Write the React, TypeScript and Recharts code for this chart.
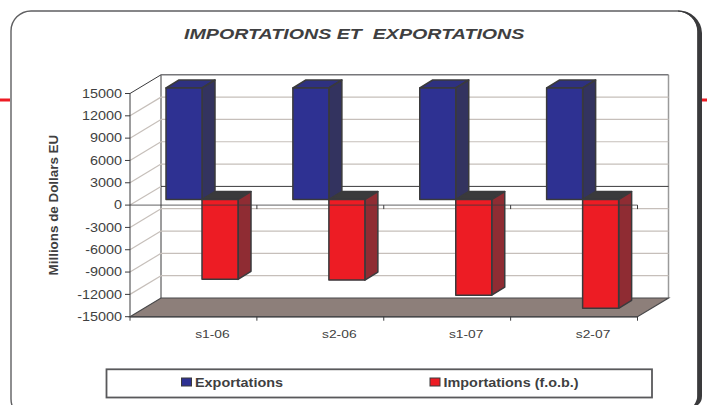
import { BarChart, Bar, XAxis, YAxis, CartesianGrid, Legend, ReferenceLine } from "recharts";

const categories = ["s1-06", "s2-06", "s1-07", "s2-07"];
const exportations = [15000, 15000, 15000, 15000];
const importations = [-10720, -10820, -12840, -14610];
const yTicks = [15000, 12000, 9000, 6000, 3000, 0, -3000, -6000, -9000, -12000, -15000];

const data = categories.map((period, i) => ({
  period,
  exportations: exportations[i],
  importations: importations[i],
}));

// layout of the plot (front plane) and the fake 3d depth
const W = 707;
const H = 405;
const PLOT_LEFT = 130;
const PLOT_RIGHT = 637.5;
const PLOT_TOP = 93.5;
const PLOT_BOTTOM = 316.7;
const DEPTH_X = 31;
const DEPTH_Y = 18.7;
const BAR_SHIFT_X = 9;
const BAR_SHIFT_Y = 5.5;
const BAR_DX = 13;
const BAR_DY = 8;
const SLOT = (PLOT_RIGHT - PLOT_LEFT) / categories.length;

const INK = "#3a3a3c";
const GRID = "#c6bfba";
const TEXT = "#3f3f41";
const FONT = "'Liberation Sans', Arial, sans-serif";

function Wide({ x, y, anchor = "start", size = 12, stretch = 1.2, bold = false, italic = false, children }: any) {
  return (
    <text
      transform={`translate(${x} ${y}) scale(${stretch} 1)`}
      textAnchor={anchor}
      fontFamily={FONT}
      fontSize={size}
      fontWeight={bold ? 700 : 400}
      fontStyle={italic ? "italic" : "normal"}
      fill={TEXT}
      style={{ whiteSpace: "pre" }}
    >
      {children}
    </text>
  );
}

function Bar3D({ x, y, width, height, fill, side, top }: any) {
  const y0 = Math.min(y, y + height) - BAR_SHIFT_Y;
  const y1 = Math.max(y, y + height) - BAR_SHIFT_Y;
  const x0 = x + BAR_SHIFT_X;
  const x1 = x0 + width;
  return (
    <g stroke={INK} strokeWidth={1.5} strokeLinejoin="round">
      <polygon
        points={`${x0},${y0} ${x0 + BAR_DX},${y0 - BAR_DY} ${x1 + BAR_DX},${y0 - BAR_DY} ${x1},${y0}`}
        fill={top}
      />
      <polygon
        points={`${x1},${y0} ${x1 + BAR_DX},${y0 - BAR_DY} ${x1 + BAR_DX},${y1 - BAR_DY} ${x1},${y1}`}
        fill={side}
      />
      <rect x={x0} y={y0} width={width} height={y1 - y0} fill={fill} />
    </g>
  );
}

// one call per y tick: gridline along the side wall and the back wall
function GridRow({ x1, x2, y1, index }: any) {
  const backY = y1 - DEPTH_Y;
  const backL = x1 + DEPTH_X;
  const backR = x2 + DEPTH_X;
  const isTop = Math.abs(y1 - PLOT_TOP) < 1;
  const isBottom = Math.abs(y1 - PLOT_BOTTOM) < 1;
  const isZero = Math.abs(y1 - (PLOT_TOP + PLOT_BOTTOM) / 2) < 1;
  if (isBottom) {
    return (
      <polygon
        key={index}
        points={`${x1},${y1} ${backL},${backY} ${backR},${backY} ${x2},${y1}`}
        fill="#8d7f7a"
        stroke="#48484a"
        strokeWidth={1.2}
      />
    );
  }
  if (isTop) {
    return (
      <g key={index} fill="none">
        <line x1={x1} y1={y1} x2={backL} y2={backY} stroke={INK} strokeWidth={1} />
        <line x1={backR} y1={backY} x2={backR} y2={PLOT_BOTTOM - DEPTH_Y} stroke="#9a9a9a" strokeWidth={1.5} />
        <line x1={backL} y1={backY} x2={backL} y2={PLOT_BOTTOM - DEPTH_Y} stroke={INK} strokeWidth={1} />
        <line x1={backL} y1={backY} x2={backR} y2={backY} stroke="#77777a" strokeWidth={1.5} />
      </g>
    );
  }
  return (
    <g key={index} fill="none">
      <line x1={x1} y1={y1} x2={backL} y2={backY} stroke={GRID} strokeWidth={1.2} />
      <line x1={backL} y1={backY} x2={backR} y2={backY} stroke={isZero ? INK : GRID} strokeWidth={isZero ? 1 : 1.2} />
    </g>
  );
}

function YTick({ x, y, payload }: any) {
  return (
    <g>
      <line x1={x} y1={y} x2={PLOT_LEFT} y2={y} stroke={INK} strokeWidth={1} />
      <Wide x={x - 3} y={y + 4.3} anchor="end">{payload.value}</Wide>
    </g>
  );
}

function XTick({ x, y, payload, index }: any) {
  const right = x + SLOT / 2;
  return (
    <g>
      {index === 0 && <line x1={x - SLOT / 2} y1={y} x2={x - SLOT / 2} y2={y + 4} stroke={INK} />}
      <line x1={right} y1={y} x2={right} y2={y + 4} stroke={INK} />
      <Wide x={x + 19} y={y + 21} anchor="middle" size={11.5}>{payload.value}</Wide>
    </g>
  );
}

// the zero line with its own ticks at the category boundaries
function ZeroAxis({ x1, x2, y1 }: any) {
  const y = y1;
  return (
    <g stroke={INK} strokeWidth={1}>
      <line x1={x1} y1={y} x2={x2} y2={y} strokeOpacity={0.8} />
      {categories.map((c, i) => (
        <line key={c} x1={x1 + SLOT * (i + 1)} y1={y} x2={x1 + SLOT * (i + 1)} y2={y + 4} />
      ))}
    </g>
  );
}

function LegendBox({ payload }: any) {
  const spots = [181.5, 430];
  const items = payload || [];
  return (
    <svg width={W} height={32} style={{ display: "block" }}>
      <rect x={106.5} y={2.3} width={545.5} height={28.2} fill="#fff" stroke="#59595b" strokeWidth={1.8} />
      {items.map((it: any, i: number) => (
        <g key={it.value}>
          <rect x={spots[i]} y={11} width={10} height={8} fill={it.color} stroke={INK} strokeWidth={1} />
          <Wide x={spots[i] + 13.5} y={19.5} bold>{it.value}</Wide>
        </g>
      ))}
    </svg>
  );
}

export default function App() {
  return (
    <div style={{ position: "absolute", left: 0, top: 0, width: W, height: H, background: "#fff", overflow: "hidden" }}>
      <svg width={W} height={H} style={{ position: "absolute", left: 0, top: 0 }}>
        <rect x={0} y={98.5} width={10} height={3} fill="#ed1c24" />
        <rect x={702} y={98.5} width={5} height={3} fill="#ed1c24" />
        <rect x={11} y={11} width={687} height={408} rx={20} fill="#fff" stroke="#5f5f61" strokeWidth={1.4} />
        <path
          d="M 678 10.4 A 24 23 0 0 1 702 33 L 702 396 Q 702 402 698 405 L 694 405 Q 697.3 400 697.3 396 L 697.3 31 A 20 20 0 0 0 678 11.6 Z"
          fill={INK}
        />
        <Wide x={184} y={38.5} size={15} stretch={1.31} bold italic>{"IMPORTATIONS ET  EXPORTATIONS"}</Wide>
      </svg>
      <div style={{ position: "absolute", left: 0, top: 0 }}>
        <BarChart
          width={W}
          height={H}
          data={data}
          barGap={0}
          barCategoryGap={27}
          margin={{ top: PLOT_TOP, right: W - PLOT_RIGHT, bottom: H - PLOT_BOTTOM - 30, left: 0 }}
        >
          <CartesianGrid vertical={false} horizontal={(p: any) => <GridRow {...p} />} />
          <XAxis
            dataKey="period"
            height={30}
            interval={0}
            tickSize={0}
            tickMargin={0}
            tick={<XTick />}
            axisLine={{ stroke: "#48484a", strokeWidth: 1.5 }}
          />
          <YAxis
            width={PLOT_LEFT}
            domain={[-15000, 15000]}
            ticks={yTicks}
            interval={0}
            tickSize={5}
            tickMargin={0}
            tick={<YTick />}
            tickLine={false}
            axisLine={{ stroke: INK, strokeWidth: 1 }}
            label={{
              value: "Millions de Dollars EU",
              angle: -90,
              position: "center",
              dx: -12,
              fontFamily: FONT,
              fontSize: 13.4,
              fontWeight: 700,
              fill: TEXT,
            }}
          />
          <Legend
            verticalAlign="middle"
            content={<LegendBox />}
            wrapperStyle={{ left: 0, top: 367, width: W, height: 32 }}
          />
          <Bar
            dataKey="exportations"
            name="Exportations"
            fill="#2e3192"
            isAnimationActive={false}
            shape={(p: any) => <Bar3D {...p} fill="#2e3192" side="#33335f" top="#2e3180" />}
          />
          <Bar
            dataKey="importations"
            name="Importations (f.o.b.)"
            fill="#ed1c24"
            isAnimationActive={false}
            shape={(p: any) => <Bar3D {...p} fill="#ed1c24" side="#8f2c33" top="#3a3a3c" />}
          />
          <ReferenceLine y={0} shape={(p: any) => <ZeroAxis {...p} />} />
        </BarChart>
      </div>
    </div>
  );
}
